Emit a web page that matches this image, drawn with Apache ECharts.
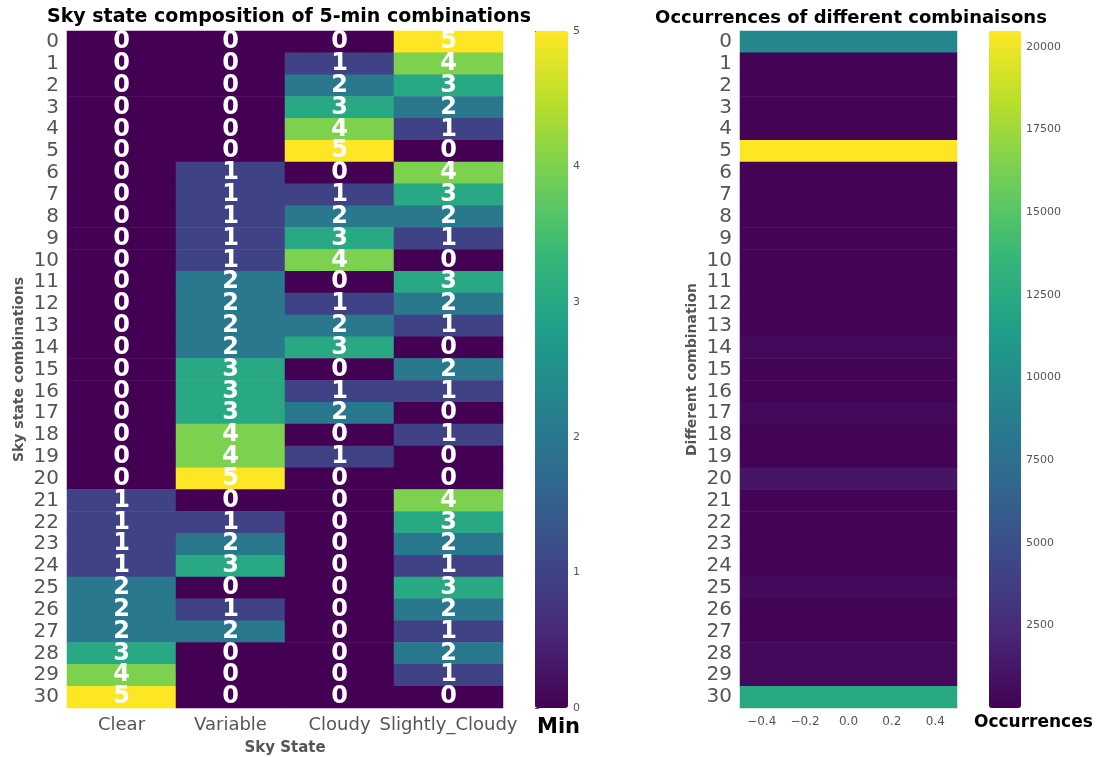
<!DOCTYPE html>
<html>
<head>
<meta charset="utf-8">
<script src="https://cdn.jsdelivr.net/npm/echarts@6/dist/echarts.min.js"></script>
<style>
  html, body { margin: 0; padding: 0; background: #fff; }
  #chart { width: 1100px; height: 757px; }
</style>
</head>
<body>
<div id="chart"></div>
<script>
// sky states (columns of the left heatmap)
const skyStates = ['Clear', 'Variable', 'Cloudy', 'Slightly_Cloudy'];

// combination index 0..30
const combos = [];
for (let i = 0; i <= 30; i++) combos.push(String(i));

// minutes of each state for every combination (Clear, Variable, Cloudy, Slightly_Cloudy)
const clearMin   = [0,0,0,0,0,0,0,0,0,0,0,0,0,0,0,0,0,0,0,0,0,1,1,1,1,2,2,2,3,4,5];
const variableMin= [0,0,0,0,0,0,1,1,1,1,1,2,2,2,2,3,3,3,4,4,5,0,1,2,3,0,1,2,0,0,0];
const cloudyMin  = [0,1,2,3,4,5,0,1,2,3,4,0,1,2,3,0,1,2,0,1,0,0,0,0,0,0,0,0,0,0,0];
const slightMin  = [5,4,3,2,1,0,4,3,2,1,0,3,2,1,0,2,1,0,1,0,0,4,3,2,1,3,2,1,2,1,0];

// occurrences of each combination (right heatmap)
const occurrences = [9600,150,150,150,150,20480,150,150,150,150,150,150,150,150,450,
                     150,150,450,150,150,1150,150,150,150,150,450,150,150,450,450,12400];

// colour bar ticks
const minTicks = [0, 1, 2, 3, 4, 5];
const occTicks = [2500, 5000, 7500, 10000, 12500, 15000, 17500, 20000];
const rightXTicks = [-0.4, -0.2, 0, 0.2, 0.4];

const viridis = ['#440154','#482878','#3e4989','#31688e','#26828e','#1f9e89','#35b779','#6ece58','#b5de2b','#fde725'];

const compData = [];
[clearMin, variableMin, cloudyMin, slightMin].forEach((col, x) => {
  col.forEach((v, y) => compData.push([x, y, v]));
});
const occData = occurrences.map((v, y) => [0, y, v]);

const gray = '#555555';
const font = 'DejaVu Sans';

const chart = echarts.init(document.getElementById('chart'));

const option = {
  animation: false,
  textStyle: { fontFamily: font },
  title: [
    { text: 'Sky state composition of 5-min combinations', left: 284, top: 3, textAlign: 'center',
      textStyle: { fontSize: 19, fontWeight: 'bold', color: '#000', fontFamily: font } },
    { text: 'Occurrences of different combinaisons', left: 846, top: 4, textAlign: 'center',
      textStyle: { fontSize: 18, fontWeight: 'bold', color: '#000', fontFamily: font } }
  ],
  grid: [
    { left: 67, top: 31, width: 436, height: 677, outerBoundsMode: 'none' },
    { left: 740, top: 31, width: 217, height: 677, outerBoundsMode: 'none' },
    { left: 535, top: 31, width: 33, height: 677, outerBoundsMode: 'none' },
    { left: 989, top: 31, width: 32, height: 677, outerBoundsMode: 'none' }
  ],
  xAxis: [
    { type: 'category', gridIndex: 0, data: skyStates,
      name: 'Sky State', nameLocation: 'middle', nameGap: 33,
      nameTextStyle: { fontSize: 15, fontWeight: 'bold', color: gray },
      axisLine: { show: false }, splitLine: { show: false },
      axisTick: { alignWithLabel: true, length: 4, lineStyle: { color: gray } },
      axisLabel: { fontSize: 18, color: gray, margin: 8, interval: 0 } },
    { type: 'category', gridIndex: 1, data: ['0'], show: false },
    { type: 'value', gridIndex: 1, min: -0.5, max: 0.5, position: 'bottom',
      splitLine: { show: false }, axisLine: { show: false },
      axisTick: { customValues: rightXTicks, length: 4, lineStyle: { color: gray } },
      axisLabel: { customValues: rightXTicks, fontSize: 12, color: gray, margin: 8,
        formatter: v => v.toFixed(1).replace('-', '\u2212') } },
    { type: 'value', gridIndex: 2, show: false },
    { type: 'value', gridIndex: 3, show: false }
  ],
  yAxis: [
    { type: 'category', gridIndex: 0, data: combos, inverse: true,
      name: 'Sky state combinations', nameLocation: 'middle', nameGap: 41,
      nameTextStyle: { fontSize: 14, fontWeight: 'bold', color: gray },
      axisLine: { show: false }, splitLine: { show: false },
      axisTick: { alignWithLabel: true, length: 4, lineStyle: { color: gray } },
      axisLabel: { fontSize: 20, color: gray, margin: 8, interval: 0 } },
    { type: 'category', gridIndex: 1, data: combos, inverse: true,
      name: 'Different combination', nameLocation: 'middle', nameGap: 41,
      nameTextStyle: { fontSize: 14, fontWeight: 'bold', color: gray },
      axisLine: { show: false }, splitLine: { show: false },
      axisTick: { alignWithLabel: true, length: 4, lineStyle: { color: gray } },
      axisLabel: { fontSize: 20, color: gray, margin: 8, interval: 0 } },
    { type: 'value', gridIndex: 2, min: 0, max: 5, position: 'right',
      splitLine: { show: false }, axisLine: { show: false },
      axisTick: { show: true, customValues: minTicks, length: 4, lineStyle: { color: gray } },
      axisLabel: { customValues: minTicks, fontSize: 11, color: gray, margin: 5 } },
    { type: 'value', gridIndex: 3, min: 0, max: 20480, position: 'right',
      splitLine: { show: false }, axisLine: { show: false },
      axisTick: { show: true, customValues: occTicks, length: 4, lineStyle: { color: gray } },
      axisLabel: { customValues: occTicks, fontSize: 11, color: gray, margin: 5,
        formatter: v => String(v) } }
  ],
  visualMap: [
    { type: 'continuous', seriesIndex: 0, min: 0, max: 5, calculable: false,
      left: 535, top: 31, itemWidth: 33, itemHeight: 677, padding: 0, text: null,
      showLabel: false, hoverLink: false,
      inRange: { color: viridis } },
    { type: 'continuous', seriesIndex: 1, min: 0, max: 20480, calculable: false,
      left: 989, top: 31, itemWidth: 32, itemHeight: 677, padding: 0, text: null,
      showLabel: false, hoverLink: false,
      inRange: { color: viridis } }
  ],
  graphic: [
    { type: 'text', left: 537, top: 717,
      style: { text: 'Min', fontSize: 21, fontWeight: 'bold', fill: '#000', fontFamily: font } },
    { type: 'text', left: 974, top: 714,
      style: { text: 'Occurrences', fontSize: 17, fontWeight: 'bold', fill: '#000', fontFamily: font } }
  ],
  series: [
    { type: 'heatmap', xAxisIndex: 0, yAxisIndex: 0, data: compData,
      label: { show: true, color: '#fff', fontSize: 24, fontWeight: 'bold', fontFamily: font,
        formatter: p => p.value[2] },
      itemStyle: { borderWidth: 0 } },
    { type: 'heatmap', xAxisIndex: 1, yAxisIndex: 1, data: occData,
      itemStyle: { borderWidth: 0 } }
  ]
};

chart.setOption(option);
</script>
</body>
</html>
